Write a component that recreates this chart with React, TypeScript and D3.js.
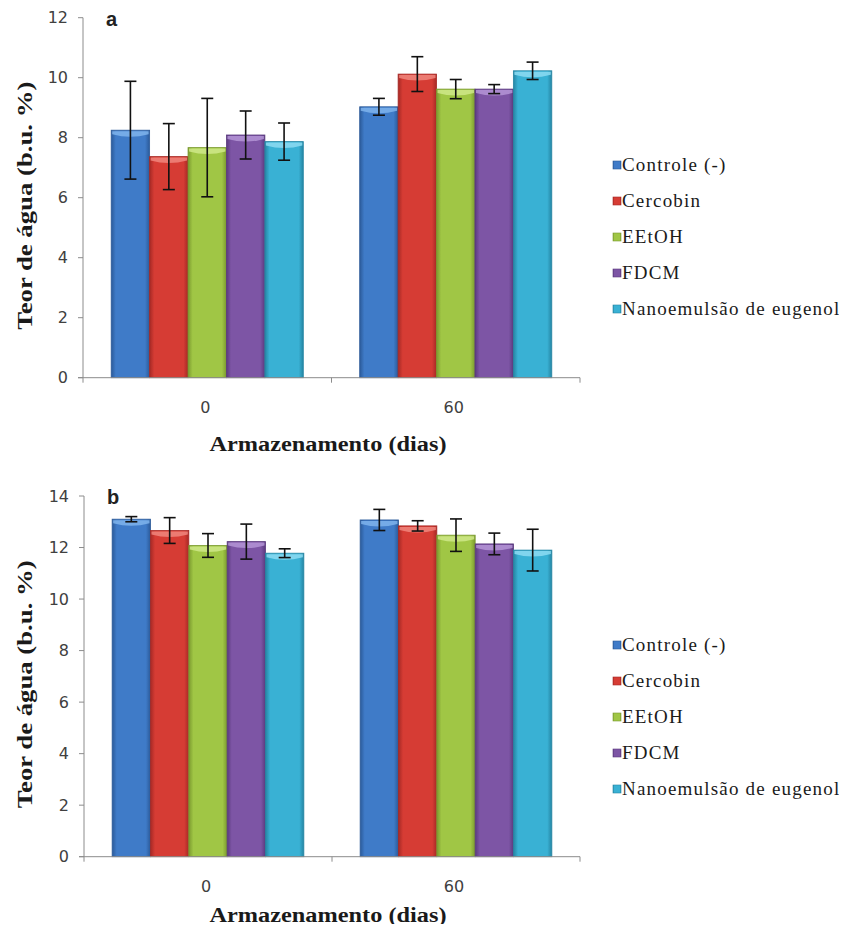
import React from "react";
import * as d3 from "d3";

const categories = ["0", "60"];
const seriesNames = ["Controle (-)", "Cercobin", "EEtOH", "FDCM", "Nanoemulsão de eugenol"];
const seriesColors = ["#3f7bc8", "#d63c34", "#a0c645", "#7d55a5", "#39b1d4"];
const seriesDark = ["#2b5a99", "#a62925", "#7b9a2f", "#5a3a7e", "#2585a3"];
const seriesLight = ["#7fb4ec", "#f0867e", "#cfe88a", "#b495d6", "#8ddcf2"];

// Panel a
const aDay0 = [8.25, 7.37, 7.67, 8.09, 7.87];
const aDay0Err = [1.63, 1.1, 1.64, 0.8, 0.62];
const aDay60 = [9.03, 10.12, 9.62, 9.62, 10.23];
const aDay60Err = [0.28, 0.58, 0.32, 0.15, 0.29];
const aTicks = [0, 2, 4, 6, 8, 10, 12];

// Panel b
const bDay0 = [13.1, 12.66, 12.08, 12.23, 11.78];
const bDay0Err = [0.1, 0.5, 0.46, 0.68, 0.17];
const bDay60 = [13.07, 12.84, 12.48, 12.14, 11.9];
const bDay60Err = [0.41, 0.2, 0.63, 0.42, 0.81];
const bTicks = [0, 2, 4, 6, 8, 10, 12, 14];

type PanelProps = {
  letter: string;
  top: number;
  bottom: number;
  left: number;
  right: number;
  yMax: number;
  ticks: number[];
  values: number[][];
  errors: number[][];
  legendTop: number;
  titleCenterY: number;
};

const SERIF = "Liberation Serif";
const SANS = "DejaVu Sans";

function Panel(p: PanelProps) {
  const y = d3.scaleLinear().domain([0, p.yMax]).range([p.bottom, p.top]);
  const x0 = d3
    .scaleBand<string>()
    .domain(categories)
    .range([p.left, p.right])
    .paddingInner(0.227)
    .paddingOuter(0.1135);
  const x1 = d3
    .scaleBand<string>()
    .domain(seriesNames)
    .range([0, x0.bandwidth()])
    .padding(0);
  const bw = x1.bandwidth();
  const step = (p.right - p.left) / categories.length;
  const boundaries = d3.range(categories.length + 1).map((i) => p.left + i * step);

  return (
    <g>
      {/* y axis */}
      <line x1={p.left} x2={p.left} y1={p.top} y2={p.bottom} stroke="#8c8c8c" strokeWidth={1} />
      {p.ticks.map((t) => (
        <g key={t}>
          <line x1={p.left - 5} x2={p.left} y1={y(t)} y2={y(t)} stroke="#8c8c8c" />
          <text
            x={p.left - 15}
            y={y(t)}
            dy="0.36em"
            textAnchor="end"
            fontFamily={SANS}
            fontSize={16}
            fill="#404040"
          >
            {t}
          </text>
        </g>
      ))}
      {/* bars */}
      {categories.map((c, ci) => (
        <g key={c}>
          {seriesNames.map((s, si) => {
            const v = p.values[ci][si];
            const e = p.errors[ci][si];
            const bx = (x0(c) as number) + (x1(s) as number);
            const by = y(v);
            const cx = bx + bw / 2;
            return (
              <g key={s}>
                <rect
                  x={bx}
                  y={by}
                  width={bw}
                  height={p.bottom - by}
                  fill={`url(#grad${si})`}
                  stroke={seriesDark[si]}
                  strokeWidth={0.8}
                />
                <path
                  d={`M${bx + 1},${by + 1} L${bx + bw - 1},${by + 1} L${bx + bw - 1},${by + 4} Q${cx},${by + 9} ${bx + 1},${by + 4} Z`}
                  fill={seriesLight[si]}
                  opacity={0.85}
                />
                <line x1={cx} x2={cx} y1={y(v + e)} y2={y(v - e)} stroke="#111" strokeWidth={1.6} />
                <line x1={cx - 6} x2={cx + 6} y1={y(v + e)} y2={y(v + e)} stroke="#111" strokeWidth={1.6} />
                <line x1={cx - 6} x2={cx + 6} y1={y(v - e)} y2={y(v - e)} stroke="#111" strokeWidth={1.6} />
              </g>
            );
          })}
          <text
            x={(x0(c) as number) + x0.bandwidth() / 2 - 2}
            y={p.bottom + 30}
            dy="0.36em"
            textAnchor="middle"
            fontFamily={SANS}
            fontSize={16}
            fill="#404040"
          >
            {c}
          </text>
        </g>
      ))}
      {/* x axis */}
      <line x1={p.left - 5} x2={p.right} y1={p.bottom} y2={p.bottom} stroke="#8c8c8c" strokeWidth={1} />
      {boundaries.map((bx, i) => (
        <line key={i} x1={bx} x2={bx} y1={p.bottom} y2={p.bottom + 5} stroke="#8c8c8c" />
      ))}
      {/* titles */}
      <text
        x={328}
        y={p.titleCenterY}
        dy="0.33em"
        textAnchor="middle"
        fontFamily={SERIF}
        fontWeight="bold"
        fontSize={20}
        fill="#1a1a1a"
        textLength={237}
        lengthAdjust="spacingAndGlyphs"
      >
        Armazenamento  (dias)
      </text>
      <text
        transform={`translate(32, ${(p.top + p.bottom) / 2 + 8}) rotate(-90)`}
        textAnchor="middle"
        fontFamily={SERIF}
        fontWeight="bold"
        fontSize={21}
        fill="#1a1a1a"
        textLength={248}
        lengthAdjust="spacingAndGlyphs"
      >
        Teor de água  (b.u.  %)
      </text>
      <text
        x={p.left + 23}
        y={p.top + 8}
        fontFamily="Liberation Sans"
        fontWeight="bold"
        fontSize={20}
        fill="#222"
      >
        {p.letter}
      </text>
      {/* legend */}
      {seriesNames.map((s, si) => {
        const ly = p.legendTop + si * 36;
        return (
          <g key={s}>
            <rect
              x={613}
              y={ly - 4}
              width={8}
              height={8}
              fill={`url(#grad${si})`}
              stroke={seriesDark[si]}
              strokeWidth={0.6}
            />
            <text
              x={622}
              y={ly}
              dy="0.34em"
              fontFamily={SERIF}
              fontSize={19}
              letterSpacing={1.2}
              fill="#1a1a1a"
            >
              {s}
            </text>
          </g>
        );
      })}
    </g>
  );
}

export default function App() {
  return (
    <svg width={847} height={932} style={{ display: "block", margin: "-8px", background: "#fff" }}>
      <defs>
        {seriesColors.map((c, i) => (
          <linearGradient key={i} id={`grad${i}`} x1="0" x2="1" y1="0" y2="0">
            <stop offset="0%" stopColor={seriesDark[i]} />
            <stop offset="12%" stopColor={c} />
            <stop offset="50%" stopColor={c} />
            <stop offset="88%" stopColor={c} />
            <stop offset="100%" stopColor={seriesDark[i]} />
          </linearGradient>
        ))}
      </defs>
      <rect width={847} height={932} fill="#fff" />
      <Panel
        letter="a"
        top={17.7}
        bottom={377.7}
        left={83}
        right={580}
        yMax={12}
        ticks={aTicks}
        values={[aDay0, aDay60]}
        errors={[aDay0Err, aDay60Err]}
        legendTop={165}
        titleCenterY={444}
      />
      <Panel
        letter="b"
        top={496}
        bottom={856.7}
        left={84}
        right={580}
        yMax={14}
        ticks={bTicks}
        values={[bDay0, bDay60]}
        errors={[bDay0Err, bDay60Err]}
        legendTop={645}
        titleCenterY={915}
      />
    </svg>
  );
}
